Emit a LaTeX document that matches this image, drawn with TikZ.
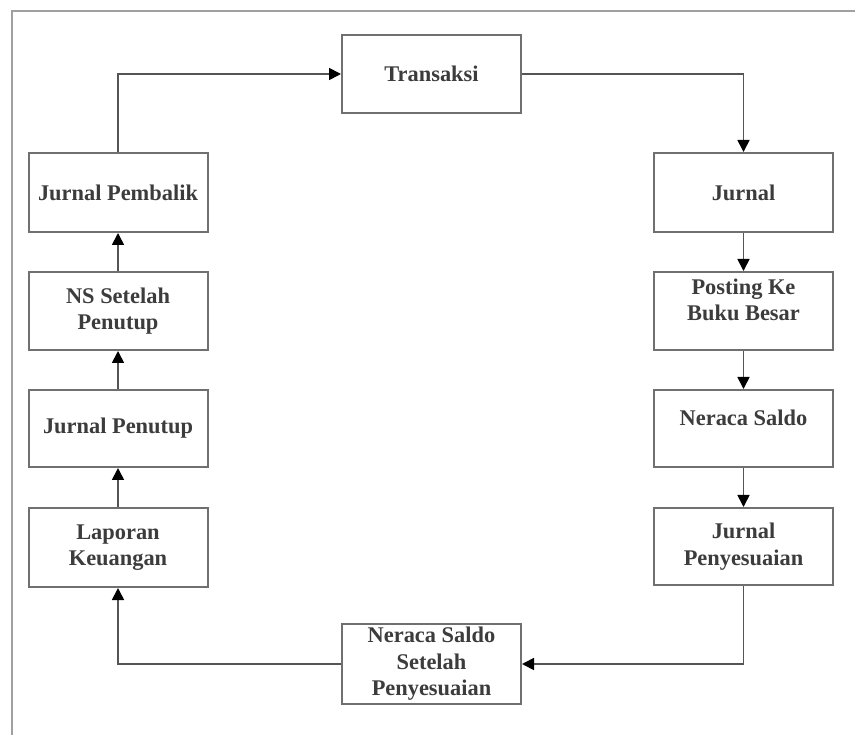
\documentclass[tikz,border=0pt]{standalone}
\usepackage{fontspec}
\setmainfont{Liberation Serif}
\usetikzlibrary{arrows.meta}
\definecolor{boxline}{HTML}{707070}
\definecolor{connline}{HTML}{555555}
\definecolor{frameline}{HTML}{A0A0A0}
\definecolor{txtcol}{HTML}{3C3C3C}
\tikzset{
  stepbox/.style={draw=boxline, line width=2pt, fill=white, minimum width=179pt,
    minimum height=78pt, inner sep=0pt, align=center, text=txtcol,
    font=\fontsize{22.4}{26.5}\selectfont\bfseries},
  conn/.style={draw=connline, line width=1.7pt,
    -{Triangle[length=12pt,width=12pt,fill=black,color=black]}},
}
\begin{document}
\begin{tikzpicture}[x=1pt,y=-1pt]
\useasboundingbox[fill=white] (0,0) rectangle (855,735);
% outer frame (top and left edges visible)
\draw[frameline, line width=1.5pt] (12,735) -- (12,11) -- (855,11);
% nodes
\node[stepbox] (tr) at (431.5,74) {Transaksi};
\node[stepbox, minimum height=79pt] (jp) at (118,192.5) {Jurnal Pembalik};
\node[stepbox] (ns) at (118,311) {NS Setelah\\Penutup};
\node[stepbox, minimum height=77pt] (jpen) at (118,428.5) {Jurnal Penutup};
\node[stepbox, minimum height=79pt] (lap) at (118,547.5) {Laporan\\Keuangan};
\node[stepbox, minimum height=79pt] (j) at (743.5,192.5) {Jurnal};
\node[stepbox, text depth=23pt] (post) at (743.5,311) {Posting Ke\\Buku Besar};
\node[stepbox, minimum height=77pt, text depth=21pt] (nrc) at (743.5,428.5) {Neraca Saldo};
\node[stepbox, minimum height=77pt] (jpeny) at (743.5,546.5) {Jurnal\\Penyesuaian};
\node[stepbox, minimum height=80pt] (nssp) at (431.5,664) {Neraca Saldo\\Setelah\\Penyesuaian};
% connectors
\draw[conn] (jp.north) |- (tr.west);
\draw[conn] (tr.east) -| (j.north);
\draw[conn] (j) -- (post);
\draw[conn] (post) -- (nrc);
\draw[conn] (nrc) -- (jpeny);
\draw[conn] (jpeny.south) |- (nssp.east);
\draw[conn] (nssp.west) -| (lap.south);
\draw[conn] (lap) -- (jpen);
\draw[conn] (jpen) -- (ns);
\draw[conn] (ns) -- (jp);
\end{tikzpicture}
\end{document}
